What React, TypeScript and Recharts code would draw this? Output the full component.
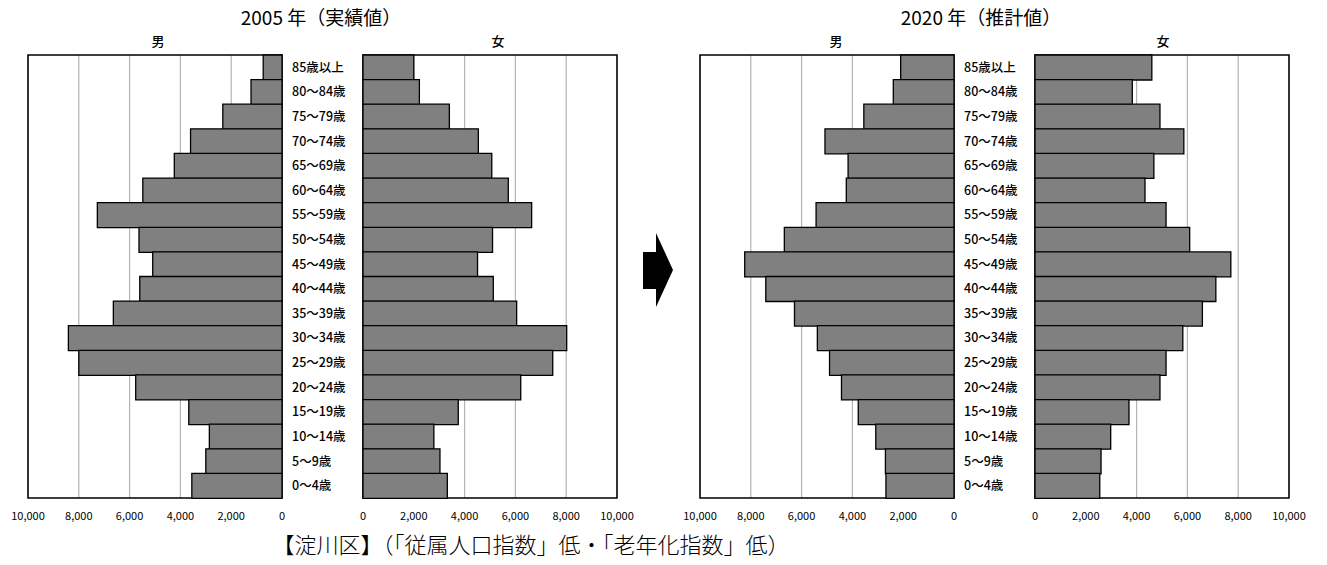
import { BarChart, Bar, XAxis, YAxis, CartesianGrid, ReferenceArea } from 'recharts'

const ageGroups = ['85歳以上','80～84歳','75～79歳','70～74歳','65～69歳','60～64歳','55～59歳','50～54歳','45～49歳','40～44歳','35～39歳','30～34歳','25～29歳','20～24歳','15～19歳','10～14歳','5～9歳','0～4歳']

const male2005 = [740,1220,2330,3600,4240,5480,7270,5630,5090,5600,6640,8410,8000,5760,3670,2860,3000,3550]
const female2005 = [2000,2220,3400,4540,5070,5720,6640,5100,4510,5130,6050,8020,7470,6210,3750,2790,3030,3320]
const male2020 = [2100,2390,3550,5080,4170,4240,5430,6680,8240,7410,6280,5380,4900,4430,3770,3080,2700,2680]
const female2020 = [4600,3830,4920,5860,4680,4330,5160,6090,7710,7120,6590,5820,5160,4920,3700,2980,2600,2550]

const xTicks = [0,2000,4000,6000,8000,10000]

const FONT = '"Noto Sans CJK JP", "Noto Sans", sans-serif'
const H = 530

const rows = (vals: number[]) => ageGroups.map((age, i) => ({ age, v: vals[i] }))
const fmt = (v: number) => v.toLocaleString('en-US')

function Side({ values, male, left }: { values: number[]; male: boolean; left: number }) {
  const width = male ? 28 + 254 + 81 : 10 + 254 + 32
  return (
    <div style={{ position: 'absolute', left, top: 0 }}>
      <BarChart
        width={width}
        height={H}
        data={rows(values)}
        layout="vertical"
        barCategoryGap={0}
        margin={{ top: 55, bottom: 2, left: male ? 28 : 10, right: male ? 0 : 32 }}
      >
        <CartesianGrid horizontal={false} stroke="#b4b4b4" strokeWidth={1.2} />
        <XAxis
          type="number"
          domain={[0, 10000]}
          ticks={xTicks}
          reversed={male}
          tickFormatter={fmt}
          height={30}
          axisLine={false}
          tickLine={false}
          tickSize={6}
          tickMargin={8}
          tick={{ fontSize: 11, fill: '#000', fontFamily: FONT }}
          interval={0}
        />
        <YAxis
          type="category"
          dataKey="age"
          orientation="right"
          width={male ? 81 : 0}
          hide={!male}
          axisLine={false}
          tickLine={false}
          tickSize={6}
          tickMargin={4}
          interval={0}
          tick={{ fontSize: 12.5, fill: '#000', fontFamily: FONT, fontWeight: 500, textAnchor: 'start' }}
        />
        <Bar dataKey="v" fill="#808080" stroke="#000" strokeWidth={1.3} isAnimationActive={false} />
        <ReferenceArea x1={0} x2={10000} fill="none" fillOpacity={0} stroke="#000" strokeWidth={1.5} ifOverflow="visible" />
      </BarChart>
    </div>
  )
}

export default function App() {
  return (
    <div style={{ position: 'absolute', left: 0, top: 0, width: 1327, height: 565, background: '#fff', fontFamily: FONT }}>
      <Side values={male2005} male left={0} />
      <Side values={female2005} male={false} left={353} />
      <Side values={male2020} male left={672} />
      <Side values={female2020} male={false} left={1025} />
      <svg width={1327} height={565} style={{ position: 'absolute', left: 0, top: 0, pointerEvents: 'none' }}>
        <g fontFamily={FONT} fill="#000">
          <text x={321} y={25} fontSize={19} textAnchor="middle">2005 年（実績値）</text>
          <text x={981} y={25} fontSize={19} textAnchor="middle">2020 年（推計値）</text>
          <text x={158} y={46} fontSize={13} fontWeight={500} textAnchor="middle">男</text>
          <text x={498} y={46} fontSize={13} fontWeight={500} textAnchor="middle">女</text>
          <text x={836} y={46} fontSize={13} fontWeight={500} textAnchor="middle">男</text>
          <text x={1163} y={46} fontSize={13} fontWeight={500} textAnchor="middle">女</text>
          <text x={531} y={553} fontSize={22} fontWeight={300} textAnchor="middle">【淀川区】（「従属人口指数」低・「老年化指数」低）</text>
        </g>
        <polygon points="643,252 656,252 656,233 673,270 656,307 656,289 643,289" fill="#000" />
      </svg>
    </div>
  )
}
